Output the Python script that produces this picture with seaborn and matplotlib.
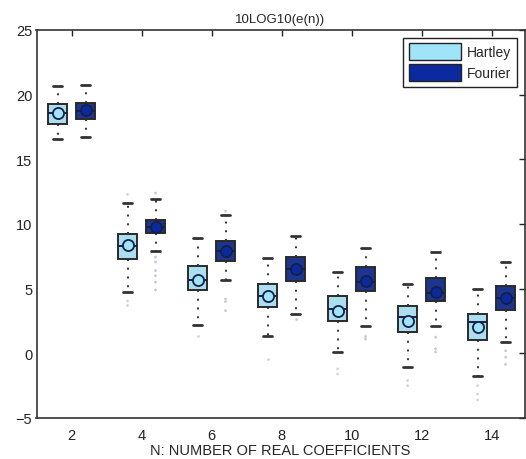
import numpy as np
import pandas as pd
import matplotlib
matplotlib.use("Agg")
import matplotlib.pyplot as plt
import seaborn as sns
from matplotlib.patches import Patch

# Box statistics
groups = [2, 4, 6, 8, 10, 12, 14]
methods = ["Hartley", "Fourier"]

hartley_lo = [16.57, 4.71, 2.19, 1.31, 0.08, -1.08, -1.78]
hartley_q1 = [17.73, 7.29, 4.90, 3.60, 2.52, 1.62, 1.03]
hartley_med = [18.58, 8.32, 5.67, 4.41, 3.43, 2.81, 2.40]
hartley_q3 = [19.28, 9.23, 6.73, 5.34, 4.45, 3.68, 3.06]
hartley_hi = [20.65, 11.60, 8.92, 7.35, 6.31, 5.34, 4.97]
hartley_mean = [18.58, 8.35, 5.70, 4.45, 3.30, 2.50, 2.00]
hartley_out = [[], [12.3, 4.05, 3.7], [1.35], [-0.4], [-1.2, -1.6],
               [-2.1, -2.5], [-2.5, -3.15, -3.6]]

fourier_lo = [16.70, 7.89, 5.69, 3.06, 2.11, 2.11, 0.85]
fourier_q1 = [18.12, 9.28, 7.16, 5.61, 4.80, 4.02, 3.37]
fourier_med = [18.76, 9.76, 7.91, 6.52, 5.54, 4.64, 4.25]
fourier_q3 = [19.38, 10.33, 8.69, 7.45, 6.65, 5.85, 5.23]
fourier_hi = [20.75, 11.96, 10.70, 9.10, 8.14, 7.81, 7.08]
fourier_mean = [18.80, 9.80, 7.95, 6.55, 5.60, 4.75, 4.30]
fourier_out = [[], [12.4, 7.45, 7.06, 6.4, 6.0, 5.5, 4.9], [11.0, 4.2, 4.0, 3.3],
               [2.65], [1.3, 1.1], [1.25, 0.35, 0.1], [0.2, -0.3, -0.85]]

box_colors = ["#a0e4fa", "#0b2aa0"]

# Long-form tables for seaborn
stats = {
    "Hartley": (hartley_lo, hartley_q1, hartley_med, hartley_q3, hartley_hi, hartley_mean, hartley_out),
    "Fourier": (fourier_lo, fourier_q1, fourier_med, fourier_q3, fourier_hi, fourier_mean, fourier_out),
}
box_rows, mean_rows, out_rows = [], [], []
for m in methods:
    lo, q1, med, q3, hi, mean, out = stats[m]
    for i, g in enumerate(groups):
        for v in (lo[i], q1[i], med[i], q3[i], hi[i]):
            box_rows.append({"N": str(g), "method": m, "value": v})
        mean_rows.append({"N": str(g), "method": m, "value": mean[i]})
        for v in out[i]:
            out_rows.append({"N": str(g), "method": m, "value": v})
box_df = pd.DataFrame(box_rows)
mean_df = pd.DataFrame(mean_rows)
out_df = pd.DataFrame(out_rows)
order = [str(g) for g in groups]

sns.set_style("white")
plt.rcParams["font.family"] = ["Liberation Sans", "DejaVu Sans"]

fig = plt.figure(figsize=(5.26, 4.6), dpi=100)
ax = fig.add_axes([36.5 / 526, 41 / 460, 488 / 526, 388 / 460])

sns.boxplot(data=box_df, x="N", y="value", hue="method", order=order, hue_order=methods,
            palette=box_colors, width=0.8, gap=0.32, whis=(0, 100), showfliers=False,
            legend=False, ax=ax,
            boxprops=dict(edgecolor="#2a2a2a", linewidth=1.4),
            whiskerprops=dict(color="#333333", linestyle=(0, (1, 3.5)), linewidth=1.4),
            capprops=dict(color="#333333", linewidth=2),
            medianprops=dict(color="#14204a", linewidth=1.4))

sns.stripplot(data=out_df, x="N", y="value", hue="method", order=order, hue_order=methods,
              palette=["#d2d5de", "#c4c9dc"], dodge=True, jitter=False, size=2,
              legend=False, ax=ax)

sns.stripplot(data=mean_df, x="N", y="value", hue="method", order=order, hue_order=methods,
              palette=box_colors, dodge=True, jitter=False, size=8, marker="o",
              edgecolor="#14204a", linewidth=1.3, legend=False, ax=ax)

ax.set_xlim(-0.5, 6.47)
ax.set_ylim(-5, 25)
ax.set_yticks([-5, 0, 5, 10, 15, 20, 25])
ax.set_title("10LOG10(e(n))", fontsize=9.5, pad=6)
ax.set_xlabel("N: NUMBER OF REAL COEFFICIENTS", fontsize=10.5, labelpad=1)
ax.set_ylabel("")
ax.tick_params(direction="in", length=4, width=1, top=True, right=True,
               labelsize=10.5, colors="#222222", pad=3)
ax.tick_params(axis="x", pad=7)
for s in ax.spines.values():
    s.set_visible(True)
    s.set_color("#333333")
    s.set_linewidth(1.2)

handles = [Patch(facecolor=box_colors[0], edgecolor="#222222", label="Hartley"),
           Patch(facecolor=box_colors[1], edgecolor="#222222", label="Fourier")]
leg = ax.legend(handles=handles, loc="upper right", fontsize=10, handlelength=3.8,
                handleheight=1.5, fancybox=False, framealpha=1, borderpad=0.4,
                labelspacing=0.3, handletextpad=0.4, borderaxespad=0.55)
leg.get_frame().set_edgecolor("#222222")
leg.get_frame().set_linewidth(1)

fig.savefig("out.png", dpi=100)
